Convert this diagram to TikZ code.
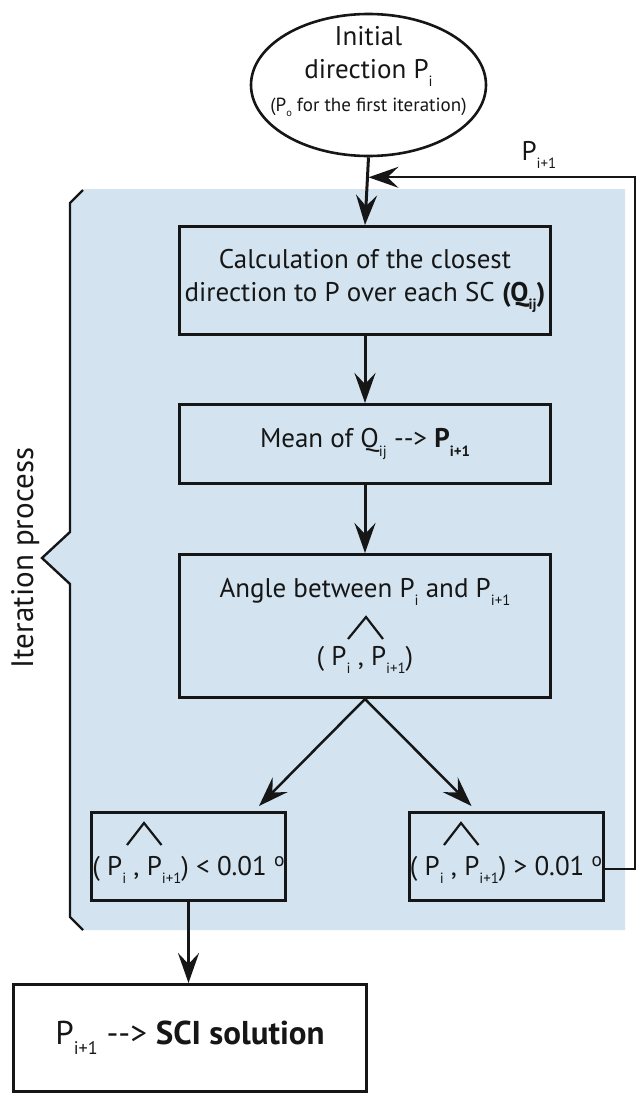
\documentclass[tikz,border=0pt]{standalone}
\usepackage{fontspec}
\setmainfont{PT Sans}
\usepackage{graphicx}
\usetikzlibrary{positioning,arrows.meta,calc,shapes.geometric}
\definecolor{zone}{HTML}{D3E4F0}
\definecolor{ink}{HTML}{161616}
\newcommand\sbs[1]{\raisebox{-.3em}{\scalebox{.55}{#1}}}
\newcommand\degsym{\raisebox{.33em}{\scalebox{.72}{o}}}

\begin{document}
\begin{tikzpicture}[x=1pt,y=-1pt,
  every node/.style={text=ink,font=\fontsize{27}{33}\selectfont},
  stepbox/.style={draw=ink,line width=3pt,minimum width=371pt,inner sep=0pt,align=center},
  testbox/.style={draw=ink,line width=3pt,minimum width=194pt,minimum height=88pt,
    inner sep=0pt,text height=45pt,text depth=8pt},
  flow/.style={ink,line width=3pt,-{Stealth[length=30pt,width=21pt,inset=11pt]}},
  hat/.style={ink,line width=2.2pt}]
  \useasboundingbox (0,0) rectangle (636,1095);
  % iteration zone with its bracket
  \fill[zone] (83,189) -- (625,189) -- (625,930) -- (83,930) -- (70,917) -- (70,584)
    -- (42,558) -- (70,532) -- (70,203) -- cycle;
  \draw[ink,line width=2.4pt] (83,190) -- (70,203) -- (70,532) -- (42,558) -- (70,584)
    -- (70,917) -- (83,930);
  \node[rotate=90,anchor=base,font=\fontsize{31}{36}\selectfont] (iterlbl) at (33,558) {Iteration process};

  \node[ellipse,draw=ink,line width=2.6pt,minimum width=235pt,minimum height=142pt] (init) at (368.5,85) {};
  \node[align=center] (initlbl) at (368.5,71.5) {Initial\\direction P\sbs{i}\\
    {\fontsize{19}{22}\selectfont(P\sbs{o} for the first iteration)}};
  \node[stepbox,minimum height=108pt] (calc) at (365,280.5)
    {Calculation of the closest\\direction to P over each SC \textbf{(Q\sbs{ij})}};
  \node[stepbox,minimum height=79pt] (mean) at (365,444) {Mean of Q\sbs{ij} -{}-> \textbf{P\sbs{i+1}}};
  \node[stepbox,minimum height=143pt] (angle) at (365,626)
    {Angle between P\sbs{i} and P\sbs{i+1}\\[35pt]( P\sbs{i} , P\sbs{i+1})};
  \node[testbox] (converged) at (188.5,856.5) {( P\sbs{i} , P\sbs{i+1}) < 0.01 \degsym};
  \node[testbox] (notconv) at (506,856.5) {( P\sbs{i} , P\sbs{i+1}) > 0.01 \degsym};
  \node[draw=ink,line width=3pt,minimum width=353pt,minimum height=107pt,
    font=\fontsize{33}{38}\selectfont] (sci) at (190,1038) {P\sbs{i+1} -{}-> \textbf{SCI solution}};
  \node[anchor=base west] (plbl) at (518,160) {P\sbs{i+1}};

  % angle hats
  \draw[hat] ($(angle.center)+(-17,13)$) -- ++(18,-22) -- ++(17,22);
  \draw[hat] ($(converged.center)+(-61.5,-11.5)$) -- ++(17,-22) -- ++(17.5,22);
  \draw[hat] ($(notconv.center)+(-62,-11.5)$) -- ++(17,-22) -- ++(17.5,22);

  % connectors
  \coordinate (merge) at ($(init.south)+(0,20)$);
  \draw[flow] (init.south) -- (calc.north);
  \draw[flow] (calc) -- (mean);
  \draw[flow] (mean) -- (angle);
  \draw[flow,line width=2.5pt] (angle.south) -- ($(converged.north east)+(-28,-5)$);
  \draw[flow,line width=2.5pt] (angle.south) -- ($(notconv.north west)+(64,-5)$);
  \draw[flow] (converged.south) -- (sci.north -| converged.south);
  \draw[flow,line width=2.2pt] ($(notconv.east)+(0,12.5)$) -- ++(31,0) |- (merge);
\end{tikzpicture}
\end{document}
